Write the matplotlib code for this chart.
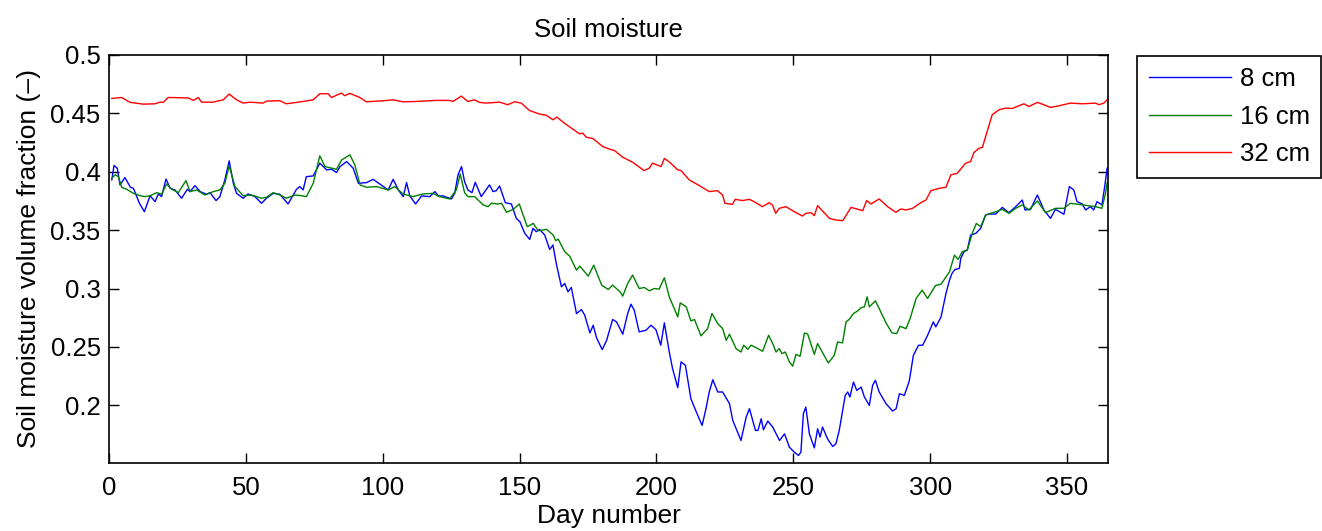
import numpy as np
from matplotlib import pyplot as plt

# values, one list of days and one of values per depth
day_8cm = [1, 1.8, 3, 4, 5.8, 7.8, 8.9, 11.1, 12.9, 15, 16.8, 18, 19.2, 20.8, 22.3, 24.1, 26.5, 28.6,
           29.6, 31.4, 33.3, 35.6, 36.9, 39.1, 40.5, 42.3, 43.9, 45.4, 46.6, 49, 50.8, 53.3, 55.7,
           57.5, 60, 62.4, 65.4, 68.5, 69.7, 70.9, 72.1, 74.6, 77, 79.5, 81.3, 83.1, 84.4, 86.8, 89.2,
           91.1, 94.1, 96.5, 100.2, 102, 103.8, 105.7, 107.5, 108.7, 109.9, 112, 114.2, 117.2, 119.1,
           120.3, 122.1, 125.1, 126.3, 127.5, 128.8, 129.9, 131.1, 132.6, 133.8, 136, 139, 140.3,
           141.5, 142.7, 144.8, 147, 148.8, 150.1, 151.9, 153.7, 154.9, 156.1, 157.3, 159.2, 161,
           162.2, 163.4, 165.3, 166.5, 167.7, 168.9, 170.8, 172.6, 173.8, 175.7, 176.9, 178.1, 180.2,
           181.8, 184, 185.4, 186.7, 187.7, 189.5, 190.7, 191.9, 193.7, 196.2, 198, 199.8, 201.6,
           202.9, 204.7, 205.9, 207.8, 209, 210.6, 212.6, 215.1, 216.7, 218.1, 219.3, 220.6, 222.4,
           224.2, 226.7, 227.9, 230.9, 232.8, 234, 236.2, 237.1, 238.3, 239.1, 240.7, 242.5, 245,
           246.8, 248.6, 250.4, 251.9, 252.8, 253.7, 254.6, 255.9, 257.7, 258.9, 259.8, 260.7, 262.5,
           264.4, 265.6, 266.8, 269, 269.9, 270.7, 272, 273.2, 274.8, 276, 277.8, 279, 280, 281.4,
           283.9, 286.3, 287.6, 288.8, 290.6, 292.4, 293.9, 295.8, 297.3, 299.1, 301.2, 302.1, 304,
           305.8, 307.1, 308, 309.1, 310.7, 311.2, 312.4, 313.6, 314.8, 316.7, 318.5, 320.3, 321.5,
           324, 326.4, 328.8, 331.3, 333.7, 334.7, 336.7, 339.2, 341.6, 344, 345.8, 348.9, 350.9,
           352.5, 353.7, 355.6, 356.8, 358.6, 359.8, 361, 362.8, 363.8, 364.7]
val_8cm = [0.3929, 0.4052, 0.4029, 0.3886, 0.3949, 0.3866, 0.3857, 0.3729, 0.3657, 0.3794, 0.3743,
           0.3809, 0.3786, 0.3937, 0.3857, 0.3843, 0.3772, 0.3849, 0.3829, 0.3880, 0.3829, 0.3806,
           0.3820, 0.3752, 0.3786, 0.3929, 0.4092, 0.3900, 0.3814, 0.3772, 0.3809, 0.3786, 0.3729,
           0.3772, 0.3814, 0.3806, 0.3723, 0.3849, 0.3872, 0.3843, 0.3957, 0.3963, 0.4072, 0.4015,
           0.4020, 0.3992, 0.4043, 0.4086, 0.4029, 0.3900, 0.3906, 0.3934, 0.3872, 0.3843, 0.3934,
           0.3843, 0.3786, 0.3906, 0.3792, 0.3723, 0.3792, 0.3786, 0.3829, 0.3792, 0.3792, 0.3766,
           0.3814, 0.3972, 0.4043, 0.3915, 0.3843, 0.3820, 0.3909, 0.3786, 0.3886, 0.3829, 0.3837,
           0.3877, 0.3734, 0.3723, 0.3600, 0.3572, 0.3472, 0.3420, 0.3515, 0.3486, 0.3506, 0.3457,
           0.3334, 0.3372, 0.3215, 0.3015, 0.3043, 0.2972, 0.3009, 0.2786, 0.2820, 0.2772, 0.2620,
           0.2686, 0.2580, 0.2477, 0.2557, 0.2735, 0.2715, 0.2657, 0.2609, 0.2786, 0.2866, 0.2815,
           0.2629, 0.2643, 0.2686, 0.2649, 0.2515, 0.2706, 0.2457, 0.2315, 0.2152, 0.2372, 0.2343,
           0.2057, 0.1915, 0.1829, 0.1972, 0.2115, 0.2220, 0.2115, 0.2115, 0.2015, 0.1872, 0.1700,
           0.1900, 0.1972, 0.1786, 0.1786, 0.1886, 0.1792, 0.1866, 0.1815, 0.1700, 0.1757, 0.1643,
           0.1600, 0.1572, 0.1600, 0.1929, 0.1986, 0.1757, 0.1637, 0.1800, 0.1729, 0.1815, 0.1715,
           0.1649, 0.1672, 0.1786, 0.2086, 0.2115, 0.2072, 0.2200, 0.2129, 0.2157, 0.2072, 0.2000,
           0.2172, 0.2215, 0.2115, 0.2015, 0.1952, 0.1972, 0.2100, 0.2086, 0.2209, 0.2429, 0.2515,
           0.2515, 0.2600, 0.2715, 0.2672, 0.2757, 0.2957, 0.3072, 0.3129, 0.3163, 0.3172, 0.3257,
           0.3315, 0.3329, 0.3457, 0.3472, 0.3515, 0.3629, 0.3637, 0.3637, 0.3694, 0.3649, 0.3700,
           0.3757, 0.3672, 0.3677, 0.3800, 0.3672, 0.3600, 0.3677, 0.3635, 0.3872, 0.3843, 0.3743,
           0.3723, 0.3672, 0.3700, 0.3672, 0.3743, 0.3715, 0.3872, 0.4029]

day_16cm = [1, 2.2, 3.4, 4.6, 6.4, 8.9, 11.3, 13.1, 15, 17.4, 19.2, 21, 22.9, 25.3, 28.1, 29.6, 32,
            35, 38.1, 40.5, 42.3, 43.9, 46, 49, 52, 55.7, 57.5, 60, 62.4, 64.8, 67.9, 70.4, 72.1,
            74.6, 77, 78.9, 83.1, 85, 88, 89.8, 91.7, 94.1, 97.7, 102, 104.4, 107.4, 111.1, 114.7,
            118.3, 120.8, 124.4, 126.9, 128.3, 129.9, 131.1, 133.6, 136.7, 138.5, 139.7, 142.2,
            143.4, 145.2, 147.7, 149.9, 152.8, 155, 156.8, 159.9, 162.3, 163.2, 164.1, 166.5, 168.3,
            170.8, 172, 175.1, 177.1, 180, 182.4, 184, 186.7, 187.7, 189.5, 191.3, 193.7, 195.6,
            197.4, 199.2, 201, 202.9, 204.7, 207.8, 208.7, 210.9, 212.6, 213.9, 216.3, 218.7, 220.3,
            222.4, 224.2, 225.5, 226.7, 229.1, 230.9, 231.9, 233.4, 234.6, 236.4, 238.8, 241, 242.5,
            243.7, 244.9, 245.9, 247.1, 248.6, 249.8, 251, 252.5, 254.1, 255.3, 257.7, 258.9, 262.8,
            265, 266.2, 268, 269.3, 270.4, 272, 273.6, 274.8, 276, 277, 277.8, 280, 281.4, 283.9,
            286.1, 287.8, 289, 291.2, 292.7, 294.9, 297.1, 299.1, 302, 304, 307.1, 308.9, 310.2,
            311.8, 313.6, 315.4, 316.9, 318.5, 320.3, 324, 326.4, 328.8, 331.3, 333.7, 336.1, 339.2,
            342.2, 345.8, 348.9, 351.3, 355.6, 360.5, 362.8, 364.1, 364.7]
val_16cm = [0.3943, 0.3972, 0.3957, 0.3866, 0.3849, 0.3814, 0.3794, 0.3786, 0.3794, 0.3820, 0.3806,
            0.3894, 0.3849, 0.3820, 0.3923, 0.3829, 0.3843, 0.3800, 0.3829, 0.3843, 0.3900, 0.4049,
            0.3872, 0.3794, 0.3800, 0.3772, 0.3780, 0.3820, 0.3800, 0.3772, 0.3800, 0.3794, 0.3786,
            0.3900, 0.4135, 0.4043, 0.4020, 0.4100, 0.4143, 0.4058, 0.3886, 0.3866, 0.3872, 0.3843,
            0.3872, 0.3809, 0.3786, 0.3809, 0.3814, 0.3786, 0.3766, 0.3843, 0.3980, 0.3820, 0.3786,
            0.3786, 0.3715, 0.3700, 0.3729, 0.3723, 0.3729, 0.3652, 0.3677, 0.3723, 0.3529, 0.3557,
            0.3494, 0.3506, 0.3457, 0.3409, 0.3423, 0.3315, 0.3277, 0.3157, 0.3192, 0.3106, 0.3200,
            0.3029, 0.2992, 0.3029, 0.2972, 0.2935, 0.3043, 0.3115, 0.3000, 0.3009, 0.2980, 0.3000,
            0.2995, 0.3092, 0.2929, 0.2757, 0.2877, 0.2843, 0.2723, 0.2735, 0.2595, 0.2657, 0.2786,
            0.2700, 0.2657, 0.2557, 0.2609, 0.2486, 0.2457, 0.2515, 0.2480, 0.2515, 0.2495, 0.2463,
            0.2600, 0.2529, 0.2457, 0.2486, 0.2443, 0.2457, 0.2372, 0.2335, 0.2437, 0.2420, 0.2620,
            0.2609, 0.2437, 0.2529, 0.2363, 0.2429, 0.2543, 0.2535, 0.2715, 0.2735, 0.2786, 0.2809,
            0.2837, 0.2843, 0.2929, 0.2843, 0.2894, 0.2829, 0.2706, 0.2620, 0.2615, 0.2677, 0.2657,
            0.2743, 0.2915, 0.2986, 0.2915, 0.3026, 0.3037, 0.3143, 0.3286, 0.3249, 0.3315, 0.3329,
            0.3472, 0.3557, 0.3529, 0.3629, 0.3657, 0.3677, 0.3643, 0.3686, 0.3715, 0.3672, 0.3749,
            0.3649, 0.3686, 0.3686, 0.3729, 0.3715, 0.3700, 0.3686, 0.3815, 0.3906]

day_32cm = [1, 4.6, 7.7, 12.5, 16.8, 18.6, 19.8, 21.6, 25.9, 29, 30.8, 32.6, 33.8, 38, 41.7, 43.9,
            46.6, 49, 51.5, 56.3, 57.5, 62.4, 64.8, 70.9, 74.6, 77, 80, 81.3, 84.9, 86.1, 88, 91.6,
            94, 100.1, 103.8, 107.4, 112.3, 119.6, 124.4, 125.7, 128.7, 131.1, 133.5, 135.4, 137.8,
            142.7, 145.7, 148.1, 150.6, 153.6, 157.3, 159.7, 162.2, 163.6, 166.4, 170.1, 171.9,
            173.1, 174.4, 176.8, 180.4, 182.9, 184.7, 187.7, 191.3, 195.5, 197.4, 198.6, 201.7,
            202.9, 204.7, 207.8, 209, 212, 215.7, 219.3, 222.3, 224.2, 225, 227.8, 228.8, 231.5,
            233.9, 235.7, 238.7, 241.2, 242.4, 243.6, 244.9, 247.3, 250.4, 253.4, 254.6, 256.5,
            257.7, 258.9, 263.2, 265.6, 268.1, 271.1, 275.4, 276.8, 278.4, 281.4, 284.5, 287.5,
            289.3, 291.2, 293.6, 296.6, 298.5, 300.3, 303.3, 305.8, 307.6, 309.9, 313, 314.8, 316,
            317.9, 319.1, 320.3, 322.7, 325.2, 327.6, 330, 331.3, 334.3, 336.1, 339.2, 341.6, 344,
            347.1, 351.3, 355.6, 360.5, 361.7, 363.5, 364.7]
val_32cm = [0.4626, 0.4634, 0.4592, 0.4577, 0.4580, 0.4594, 0.4592, 0.4634, 0.4632, 0.4629, 0.4609,
            0.4634, 0.4594, 0.4594, 0.4614, 0.4663, 0.4614, 0.4586, 0.4594, 0.4586, 0.4603, 0.4606,
            0.4580, 0.4600, 0.4614, 0.4666, 0.4666, 0.4634, 0.4672, 0.4649, 0.4669, 0.4634, 0.4597,
            0.4606, 0.4614, 0.4597, 0.4600, 0.4609, 0.4609, 0.4600, 0.4646, 0.4600, 0.4614, 0.4592,
            0.4586, 0.4594, 0.4572, 0.4597, 0.4586, 0.4523, 0.4492, 0.4483, 0.4443, 0.4466, 0.4414,
            0.4352, 0.4323, 0.4329, 0.4294, 0.4283, 0.4214, 0.4192, 0.4180, 0.4123, 0.4080, 0.4009,
            0.4029, 0.4072, 0.4043, 0.4112, 0.4083, 0.4015, 0.4009, 0.3929, 0.3880, 0.3829, 0.3837,
            0.3800, 0.3729, 0.3720, 0.3763, 0.3752, 0.3763, 0.3743, 0.3700, 0.3734, 0.3714, 0.3643,
            0.3686, 0.3700, 0.3657, 0.3620, 0.3643, 0.3649, 0.3623, 0.3709, 0.3600, 0.3586, 0.3580,
            0.3694, 0.3666, 0.3752, 0.3723, 0.3766, 0.3700, 0.3652, 0.3680, 0.3672, 0.3686, 0.3734,
            0.3757, 0.3837, 0.3857, 0.3866, 0.3972, 0.3986, 0.4072, 0.4086, 0.4163, 0.4200, 0.4206,
            0.4300, 0.4486, 0.4529, 0.4543, 0.4540, 0.4552, 0.4580, 0.4557, 0.4592, 0.4572, 0.4549,
            0.4563, 0.4586, 0.4580, 0.4586, 0.4572, 0.4586, 0.4614]

labels = ['8 cm', '16 cm', '32 cm']
colors = ['#0000ff', '#008000', '#ff0000']
xticks = [0, 50, 100, 150, 200, 250, 300, 350]
yticks = [0.2, 0.25, 0.3, 0.35, 0.4, 0.45, 0.5]
ytick_labels = ['0.2', '0.25', '0.3', '0.35', '0.4', '0.45', '0.5']

plt.rcParams['font.family'] = ['Liberation Sans', 'DejaVu Sans']
plt.rcParams['font.size'] = 18.5

fig = plt.figure(figsize=(13.22, 5.31), dpi=100)
ax = fig.add_axes([0.0825, 0.1275, 0.7556, 0.7695])

series = [(day_8cm, val_8cm), (day_16cm, val_16cm), (day_32cm, val_32cm)]
for (d, v), lab, c in zip(series, labels, colors):
    ax.plot(d, v, color=c, lw=1.0, label=lab)

ax.set_xlim(0, 365)
ax.set_ylim(0.1505, 0.5)
ax.set_xticks(xticks)
ax.set_yticks(yticks)
ax.set_yticklabels(ytick_labels)
ax.tick_params(direction='in', length=7, width=1, top=True, right=True, labelsize=18.5)
ax.tick_params(axis='x', pad=9)
ax.tick_params(axis='y', pad=6)
for sp in ax.spines.values():
    sp.set_linewidth(1.2)

ax.set_title('Soil moisture', fontsize=18.5, pad=13)
ax.set_xlabel('Day number', fontsize=19, labelpad=3)
ax.set_ylabel('Soil moisture volume fraction (\u2013)', fontsize=19, labelpad=7)

leg = ax.legend(loc='upper left', bbox_to_anchor=(1137 / 1322, 1 - 55.7 / 531),
                bbox_transform=fig.transFigure, borderaxespad=0, fancybox=False,
                edgecolor='black', framealpha=1, borderpad=0.45, handlelength=3.2,
                handletextpad=0.35, labelspacing=0.52, fontsize=18.5)
leg.get_frame().set_linewidth(1.2)

fig.savefig('out.png', dpi=100)
